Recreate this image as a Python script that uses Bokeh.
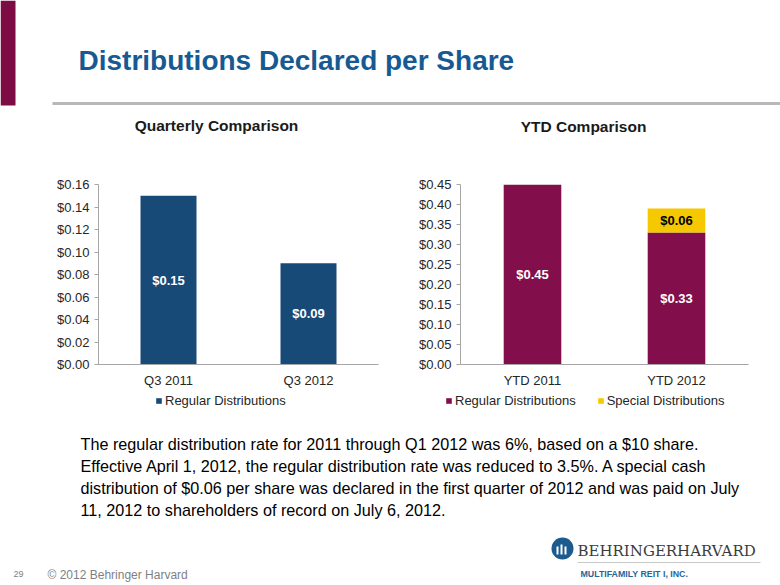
from bokeh.plotting import figure
from bokeh.layouts import column, row
from bokeh.models import (Range1d, FactorRange, ColumnDataSource, LabelSet,
                          Legend, LegendItem, FixedTicker, NumeralTickFormatter)
from bokeh.core.properties import value
from bokeh.embed import file_html
from bokeh.resources import INLINE

# ---------------- data ----------------
q_categories = ["Q3 2011", "Q3 2012"]
q_regular = [0.15, 0.09]
q_ticks = [0.00, 0.02, 0.04, 0.06, 0.08, 0.10, 0.12, 0.14, 0.16]

ytd_categories = ["YTD 2011", "YTD 2012"]
ytd_regular = [0.45, 0.33]
ytd_special = [0.00, 0.06]
ytd_ticks = [0.00, 0.05, 0.10, 0.15, 0.20, 0.25, 0.30, 0.35, 0.40, 0.45]

series_names = ["Regular Distributions", "Special Distributions"]
page_title = "Distributions Declared per Share"
left_title = "Quarterly Comparison"
right_title = "YTD Comparison"
paragraph = [
    "The regular distribution rate for 2011 through Q1 2012 was 6%, based on a $10 share.",
    "Effective April 1, 2012, the regular distribution rate was reduced to 3.5%.  A special cash",
    "distribution of $0.06 per share was declared in the first quarter of 2012 and was paid on July",
    "11, 2012 to shareholders of record on July 6, 2012.",
]
footer_page = "29"
footer_copy = "\u00a9 2012 Behringer Harvard"
logo_name = "BEHRINGERHARVARD"
logo_sub = "MULTIFAMILY REIT I, INC."

FONT = "Liberation Sans"
BLUE = "#184a77"
MAROON = "#820f4c"
YELLOW = "#f5c800"
AXIS = "#a6a6a6"
W = 780
NAN = float("nan")


def money(v):
    return "${:.2f}".format(v)


def base_chart(width, bl, br, bt, bb, cats, ymax, ticks):
    p = figure(width=width, height=242, x_range=FactorRange(*cats, range_padding=0),
               y_range=Range1d(0, ymax), output_backend="svg", toolbar_location=None,
               min_border_left=bl, min_border_right=br, min_border_top=bt, min_border_bottom=bb)
    p.outline_line_color = None
    p.xgrid.visible = False
    p.ygrid.visible = False
    yax = p.yaxis[0]
    yax.ticker = FixedTicker(ticks=ticks)
    yax.formatter = NumeralTickFormatter(format="$0.00")
    yax.axis_line_color = AXIS
    yax.major_tick_line_color = AXIS
    yax.major_tick_in = 0
    yax.major_tick_out = 4
    yax.minor_tick_line_color = None
    yax.major_label_text_font = FONT
    yax.major_label_text_font_size = "13px"
    yax.major_label_text_color = "#262626"
    yax.major_label_standoff = 5
    xax = p.xaxis[0]
    xax.axis_line_color = AXIS
    xax.major_tick_line_color = None
    xax.major_tick_in = 0
    xax.major_tick_out = 0
    xax.minor_tick_line_color = None
    xax.major_label_text_font = FONT
    xax.major_label_text_font_size = "13px"
    xax.major_label_text_color = "#262626"
    xax.major_label_standoff = 8
    return p


# ---------------- header ----------------
header = figure(width=W, height=148, x_range=Range1d(0, W), y_range=Range1d(148, 0),
                output_backend="svg", toolbar_location=None, min_border=0)
header.axis.visible = False
header.grid.visible = False
header.outline_line_color = None
header.quad(left=[0], right=[15], top=[0], bottom=[105], fill_color="#7d0c45", line_color=None)
header.segment(x0=[52], y0=[103], x1=[W], y1=[103], line_color="#b8b8b8", line_width=3)
header.text(x=[78], y=[60], text=[page_title], text_font=value(FONT),
            text_font_style="bold", text_font_size="28px", text_color="#175a93",
            text_baseline="middle")
header.text(x=[216, 583], y=[125, 126], text=[left_title, right_title], text_font=value(FONT),
            text_font_style="bold", text_font_size="15.5px", text_color="#1a1a1a",
            text_align="center", text_baseline="middle")

# ---------------- left chart ----------------
left = base_chart(392, 98, 14, 35, 24, q_categories, q_ticks[-1], q_ticks)
src_q = ColumnDataSource(dict(cat=q_categories, reg=q_regular,
                              mid=[v / 2 for v in q_regular],
                              lab=[money(v) for v in q_regular]))
left.vbar(x="cat", top="reg", width=0.4, source=src_q, fill_color=BLUE, line_color=None)
left.add_layout(LabelSet(x="cat", y="mid", text="lab", source=src_q, text_font=value(FONT),
                         text_font_style="bold", text_font_size="13px", text_color="white",
                         text_align="center", text_baseline="middle"))

# ---------------- right chart ----------------
right = base_chart(388, 68, 32, 36, 24, ytd_categories, ytd_ticks[-1], ytd_ticks)
tot = [a + b for a, b in zip(ytd_regular, ytd_special)]
src_y = ColumnDataSource(dict(cat=ytd_categories, reg=ytd_regular, spec=ytd_special, tot=tot))
right.vbar(x="cat", bottom=0, top="reg", width=0.4, source=src_y,
           fill_color=MAROON, line_color=None)
right.vbar(x="cat", bottom="reg", top="tot", width=0.4, source=src_y,
           fill_color=YELLOW, line_color=None)
lab_cats, lab_y, lab_txt, lab_col = [], [], [], []
for c, a, b in zip(ytd_categories, ytd_regular, ytd_special):
    lab_cats.append(c); lab_y.append(a / 2); lab_txt.append(money(a)); lab_col.append("white")
    if b > 0:
        lab_cats.append(c); lab_y.append(a + b / 2); lab_txt.append(money(b)); lab_col.append("black")
src_yl = ColumnDataSource(dict(cat=lab_cats, y=lab_y, lab=lab_txt, col=lab_col))
right.add_layout(LabelSet(x="cat", y="y", text="lab", source=src_yl, text_font=value(FONT),
                          text_font_style="bold", text_font_size="13px", text_color="col",
                          text_align="center", text_baseline="middle"))

# ---------------- footer (legends, note, logo) ----------------
FH = 195
footer = figure(width=W, height=FH, x_range=Range1d(0, W), y_range=Range1d(FH, 0),
                output_backend="svg", toolbar_location=None, min_border=0)
footer.axis.visible = False
footer.grid.visible = False
footer.outline_line_color = None

# legend swatches (same colours as the bars; no visible geometry)
sw_blue = footer.quad(left=[NAN], right=[NAN], top=[NAN], bottom=[NAN],
                      fill_color=BLUE, line_color=None)
sw_mar = footer.quad(left=[NAN], right=[NAN], top=[NAN], bottom=[NAN],
                     fill_color=MAROON, line_color=None)
sw_yel = footer.quad(left=[NAN], right=[NAN], top=[NAN], bottom=[NAN],
                     fill_color=YELLOW, line_color=None)


def legend(items, x, y):
    lg = Legend(items=items, location=(x, y), orientation="horizontal",
                border_line_color=None, background_fill_alpha=0,
                label_text_font=FONT, label_text_font_size="13px", label_text_color="#262626",
                glyph_width=7, glyph_height=7, label_standoff=3, padding=0, margin=0,
                spacing=21, label_height=14)
    footer.add_layout(lg, "center")


legend([LegendItem(label=series_names[0], renderers=[sw_blue])], 155, FH - 18)
legend([LegendItem(label=series_names[0], renderers=[sw_mar]),
        LegendItem(label=series_names[1], renderers=[sw_yel])], 445, FH - 18)

footer.text(x=[80] * len(paragraph), y=[53 + 22 * i for i in range(len(paragraph))],
            text=paragraph, text_font=value(FONT), text_font_size="16.2px",
            text_color="black", text_baseline="middle")
footer.text(x=[13], y=[183], text=[footer_page], text_font=value(FONT), text_font_size="9px",
            text_color="#7f7f7f", text_baseline="middle")
footer.text(x=[47], y=[184], text=[footer_copy], text_font=value(FONT), text_font_size="12px",
            text_color="#7f7f7f", text_baseline="middle")
# logo
footer.scatter(x=[562], y=[158], size=22, marker="circle", fill_color="#1d5a8e", line_color=None)
footer.segment(x0=[557, 561, 565], y0=[164, 164, 164], x1=[557, 561, 565], y1=[156, 154, 156],
               line_color="white", line_width=2)
footer.text(x=[577], y=[160], text=[logo_name], text_font=value("DejaVu Serif"),
            text_font_size="15px", text_color="#3a3a3a", text_baseline="middle")
footer.segment(x0=[577], y0=[172], x1=[760], y1=[172], line_color="#c8c8c8", line_width=1)
footer.text(x=[580], y=[183], text=[logo_sub], text_font=value(FONT), text_font_style="bold",
            text_font_size="8.8px", text_color="#2a6496", text_baseline="middle")

layout = column(header, row(left, right), footer)
open("out.html", "w").write(file_html(layout, INLINE))
